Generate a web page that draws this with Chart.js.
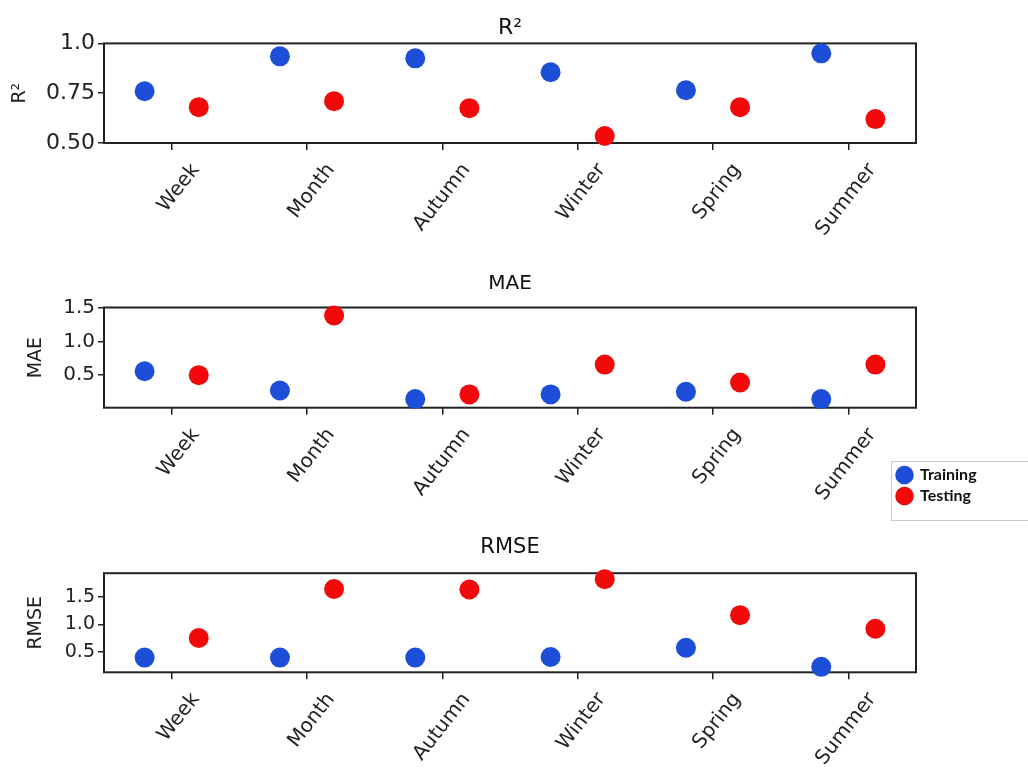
<!DOCTYPE html>
<html lang="en">
<head>
<meta charset="UTF-8">
<title>Training vs Testing scores</title>
<script src="https://cdn.jsdelivr.net/npm/chart.js@4.4.0/dist/chart.umd.min.js"></script>
<style>
  body { margin: 0; background: #fff; width: 1028px; height: 769px; overflow: hidden; position: relative; }
  .panel { position: absolute; left: 0; width: 1028px; }
  #legendBox { position: absolute; left: 891px; top: 461px; width: 136px; height: 58px; border: 1px solid #c8c8c8; background: #fff; }
</style>
</head>
<body>
<div class="panel" style="top:0;height:250px"><canvas id="r2"></canvas></div>
<div class="panel" style="top:250px;height:270px"><canvas id="mae"></canvas></div>
<div class="panel" style="top:520px;height:249px"><canvas id="rmse"></canvas></div>
<div id="legendBox"><canvas id="legend"></canvas></div>

<script>
const periods = ['Week', 'Month', 'Autumn', 'Winter', 'Spring', 'Summer'];
const seriesNames = ['Training', 'Testing'];

const r2Train = [0.76, 0.935, 0.925, 0.855, 0.765, 0.95];
const r2Test = [0.68, 0.71, 0.675, 0.535, 0.68, 0.62];
const maeTrain = [0.55, 0.26, 0.13, 0.20, 0.24, 0.13];
const maeTest = [0.49, 1.39, 0.20, 0.65, 0.38, 0.65];
const rmseTrain = [0.39, 0.39, 0.39, 0.40, 0.57, 0.22];
const rmseTest = [0.75, 1.65, 1.64, 1.83, 1.17, 0.92];

const r2Ticks = [0.5, 0.75, 1.0];
const r2TickLabels = ['0.50', '0.75', '1.0'];
const errTicks = [0.5, 1.0, 1.5];
const errTickLabels = ['0.5', '1.0', '1.5'];

const colors = ['#1c4ed8', '#f20a0a'];
const FONT = "'DejaVu Sans', sans-serif";
const INK = '#222';

// black box round the plot area, points go on top of it
const framePlugin = {
  id: 'frame',
  beforeDatasetsDraw(chart) {
    const { ctx, chartArea: a } = chart;
    ctx.save();
    ctx.strokeStyle = INK;
    ctx.lineWidth = 2;
    ctx.strokeRect(a.left, a.top, a.right - a.left, a.bottom - a.top);
    ctx.restore();
  }
};

function points(values, shift) {
  return values.map((v, i) => ({ x: i + shift, y: v }));
}

function makePanel(id, cfg) {
  const ctx = document.getElementById(id).getContext('2d');
  return new Chart(ctx, {
    type: 'scatter',
    data: {
      datasets: [
        { label: seriesNames[0], data: points(cfg.train, -0.2), backgroundColor: colors[0] },
        { label: seriesNames[1], data: points(cfg.test, 0.2), backgroundColor: colors[1] }
      ]
    },
    options: {
      responsive: true,
      maintainAspectRatio: false,
      animation: false,
      events: [],
      layout: { padding: { top: cfg.padTop, right: 112, left: 0, bottom: 0 } },
      elements: { point: { radius: 10, hoverRadius: 10, borderWidth: 0 } },
      datasets: { scatter: { clip: false } },
      plugins: {
        legend: { display: false },
        tooltip: { enabled: false },
        title: {
          display: true,
          fullSize: false,
          text: cfg.title,
          color: '#111',
          font: { family: FONT, size: cfg.titleSize, weight: 'normal' },
          padding: { top: 0, bottom: cfg.titleGap }
        }
      },
      scales: {
        x: {
          type: 'linear',
          min: -0.5,
          max: periods.length - 0.5,
          afterBuildTicks: s => { s.ticks = periods.map((p, i) => ({ value: i })); },
          afterFit: s => { s.height = cfg.xHeight; },
          border: { display: false },
          grid: { drawOnChartArea: false, drawTicks: true, tickLength: 7, color: INK, lineWidth: 1.5 },
          ticks: {
            callback: (v, i) => periods[i],
            autoSkip: false,
            minRotation: 52,
            maxRotation: 52,
            labelOffset: 24,
            padding: 9,
            color: INK,
            font: { family: FONT, size: 20 }
          }
        },
        y: {
          min: cfg.yMin,
          max: cfg.yMax,
          afterBuildTicks: s => { s.ticks = cfg.ticks.map(v => ({ value: v })); },
          afterFit: s => { s.width = 104; },
          border: { display: false },
          grid: { drawOnChartArea: false, drawTicks: true, tickLength: 6, color: INK, lineWidth: 1.5 },
          ticks: {
            callback: (v, i) => cfg.tickLabels[i],
            padding: 3,
            color: INK,
            font: { family: FONT, size: cfg.tickSize }
          },
          title: {
            display: true,
            text: cfg.yTitle,
            color: INK,
            font: { family: FONT, size: 19 },
            padding: { top: cfg.yTitlePad, bottom: 0 }
          }
        }
      }
    },
    plugins: [framePlugin]
  });
}

makePanel('r2', {
  title: 'R²', titleSize: 22, padTop: 15, titleGap: 2, xHeight: 107,
  train: r2Train, test: r2Test, yMin: 0.5, yMax: 1.0,
  ticks: r2Ticks, tickLabels: r2TickLabels, tickSize: 22,
  yTitle: 'R²', yTitlePad: 9
});

makePanel('mae', {
  title: 'MAE', titleSize: 20, padTop: 22, titleGap: 11.5, xHeight: 112.3,
  train: maeTrain, test: maeTest, yMin: 0.0, yMax: 1.51,
  ticks: errTicks, tickLabels: errTickLabels, tickSize: 20,
  yTitle: 'MAE', yTitlePad: 25
});

makePanel('rmse', {
  title: 'RMSE', titleSize: 21, padTop: 15, titleGap: 13, xHeight: 96.7,
  train: rmseTrain, test: rmseTest, yMin: 0.12, yMax: 1.94,
  ticks: errTicks, tickLabels: errTickLabels, tickSize: 19,
  yTitle: 'RMSE', yTitlePad: 25
});

// legend sits in its own little bordered box to the right of the MAE panel
new Chart(document.getElementById('legend').getContext('2d'), {
  type: 'scatter',
  data: {
    datasets: seriesNames.map((name, i) => ({ label: name, data: [], backgroundColor: colors[i], pointStyle: 'circle' }))
  },
  options: {
    responsive: true,
    maintainAspectRatio: false,
    animation: false,
    events: [],
    scales: { x: { display: false }, y: { display: false } },
    plugins: {
      tooltip: { enabled: false },
      legend: {
        position: 'top',
        align: 'start',
        maxHeight: 58,
        labels: {
          usePointStyle: true,
          boxHeight: 13,
          boxWidth: 15,
          padding: 5,
          color: '#111',
          font: { family: 'Lato, sans-serif', size: 16, weight: 'bold' }
        }
      }
    }
  }
});
</script>
</body>
</html>
